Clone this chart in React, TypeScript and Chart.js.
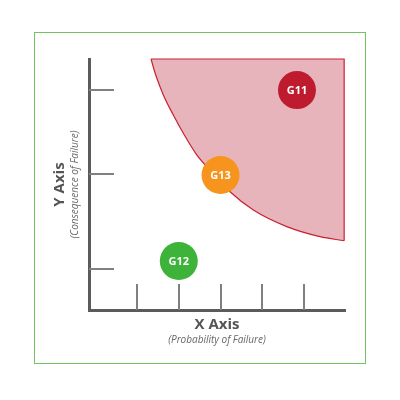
import React, { useEffect, useRef } from "react";
import { Chart, registerables } from "chart.js";

Chart.register(...registerables);

// Risk boundary curve (lower-left edge of the shaded region)
const curveX = [1.335, 1.448, 1.63, 1.869, 2.133, 2.43, 2.629, 3.228, 3.786, 4.586, 5.383, 5.96];
const curveY = [10.0, 9.36, 8.57, 7.77, 6.97, 6.18, 5.78, 4.71, 3.98, 3.32, 2.92, 2.76];
// Straight edges of the shaded region (top and right)
const edgeX = [1.335, 5.96, 5.96];
const edgeY = [10.0, 10.0, 2.76];

// Assets
const pointLabels = ["G11", "G13", "G12"];
const pointX = [4.83, 3.0, 2.0];
const pointY = [8.76, 5.38, 1.95];
const pointColors = ["#bf1b2f", "#f7941d", "#3db33a"];

// Axis tick positions
const xTicks = [1, 2, 3, 4, 5];
const yTicks = [1.63, 5.42, 8.76];

const xTitle = "X Axis";
const xSubtitle = "(Probability of Failure)";
const yTitle = "Y Axis";
const ySubtitle = "(Consequence of Failure)";

const FONT = "'Open Sans', 'Noto Sans', sans-serif";

export default function App() {
  const ref = useRef<HTMLCanvasElement | null>(null);

  useEffect(() => {
    if (!ref.current) return;

    const tickMarks = {
      id: "tickMarks",
      beforeDatasetsDraw(chart: any) {
        const ctx = chart.ctx;
        const xs = chart.scales.x;
        const ys = chart.scales.y;
        const area = chart.chartArea;
        ctx.save();
        ctx.strokeStyle = "#808080";
        ctx.lineWidth = 2;
        xs.ticks.forEach((t: any) => {
          const px = Math.round(xs.getPixelForValue(t.value));
          ctx.beginPath();
          ctx.moveTo(px, area.bottom);
          ctx.lineTo(px, area.bottom - 26);
          ctx.stroke();
        });
        ys.ticks.forEach((t: any) => {
          const py = Math.round(ys.getPixelForValue(t.value));
          ctx.beginPath();
          ctx.moveTo(area.left, py);
          ctx.lineTo(area.left + 25, py);
          ctx.stroke();
        });
        ctx.restore();
      },
    };

    const labelsPlugin = {
      id: "pointLabelsPlugin",
      afterDatasetsDraw(chart: any) {
        const ctx = chart.ctx;
        const meta = chart.getDatasetMeta(0);
        ctx.save();
        ctx.fillStyle = "#ffffff";
        ctx.font = `bold 11px ${FONT}`;
        ctx.textAlign = "center";
        ctx.textBaseline = "middle";
        meta.data.forEach((el: any, i: number) => {
          ctx.fillText(pointLabels[i], el.x, el.y + 0.5);
        });
        ctx.restore();
      },
    };

    const titles = {
      id: "axisTitles",
      afterDraw(chart: any) {
        const ctx = chart.ctx;
        const area = chart.chartArea;
        const cx = (area.left + area.right) / 2;
        const cy = (area.top + area.bottom) / 2;
        ctx.save();
        ctx.textAlign = "center";
        ctx.textBaseline = "middle";
        ctx.fillStyle = "#555555";
        ctx.font = `bold 15px ${FONT}`;
        ctx.fillText(xTitle, cx, area.bottom + 15);
        ctx.fillStyle = "#666666";
        ctx.font = `italic 10px ${FONT}`;
        ctx.fillText(xSubtitle, cx, area.bottom + 30);

        ctx.translate(60, cy);
        ctx.rotate(-Math.PI / 2);
        ctx.fillStyle = "#555555";
        ctx.font = `bold 15px ${FONT}`;
        ctx.fillText(yTitle, 0, 0);
        ctx.fillStyle = "#666666";
        ctx.font = `italic 10px ${FONT}`;
        ctx.fillText(ySubtitle, 0, 15);
        ctx.restore();
      },
    };

    const chart = new Chart(ref.current, {
      type: "scatter",
      data: {
        datasets: [
          {
            data: pointX.map((x, i) => ({ x, y: pointY[i] })),
            pointRadius: 19,
            pointHoverRadius: 19,
            pointBackgroundColor: pointColors,
            pointBorderWidth: 0,
            borderWidth: 0,
            clip: 25,
          } as any,
          {
            data: edgeX.map((x, i) => ({ x, y: edgeY[i] })),
            showLine: true,
            borderColor: "#c9202f",
            borderWidth: 1.2,
            fill: false,
            pointRadius: 0,
            tension: 0,
            clip: 6,
          } as any,
          {
            data: curveX.map((x, i) => ({ x, y: curveY[i] })),
            showLine: true,
            borderColor: "#c9202f",
            borderWidth: 1.2,
            backgroundColor: "#e8b4bb",
            fill: "end",
            pointRadius: 0,
            cubicInterpolationMode: "monotone",
            clip: 6,
          } as any,
        ],
      },
      options: {
        responsive: false,
        animation: false,
        events: [],
        layout: { padding: { left: 89, right: 55, top: 59, bottom: 90 } },
        plugins: {
          legend: { display: false },
          tooltip: { enabled: false },
        },
        scales: {
          x: {
            type: "linear",
            min: -0.15,
            max: 5.98,
            afterBuildTicks: (s: any) => {
              s.ticks = xTicks.map((v) => ({ value: v }));
            },
            ticks: { display: false },
            grid: { display: true, drawOnChartArea: false, drawTicks: false },
            border: { display: true, color: "#5b5b5b", width: 3 },
          },
          y: {
            type: "linear",
            min: 0,
            max: 10,
            afterBuildTicks: (s: any) => {
              s.ticks = yTicks.map((v) => ({ value: v }));
            },
            ticks: { display: false },
            grid: { display: true, drawOnChartArea: false, drawTicks: false },
            border: { display: true, color: "#5b5b5b", width: 3 },
          },
        },
      },
      plugins: [tickMarks, labelsPlugin, titles],
    });

    return () => chart.destroy();
  }, []);

  return (
    <div
      style={{
        position: "fixed",
        left: 0,
        top: 0,
        width: 400,
        height: 400,
        background: "#ffffff",
      }}
    >
      <div
        style={{
          position: "absolute",
          left: 34,
          top: 32,
          width: 332,
          height: 332,
          border: "1px solid #72c45e",
          boxSizing: "border-box",
        }}
      />
      <canvas
        ref={ref}
        width={400}
        height={400}
        style={{ position: "absolute", left: 0, top: 0, display: "block" }}
      />
    </div>
  );
}
